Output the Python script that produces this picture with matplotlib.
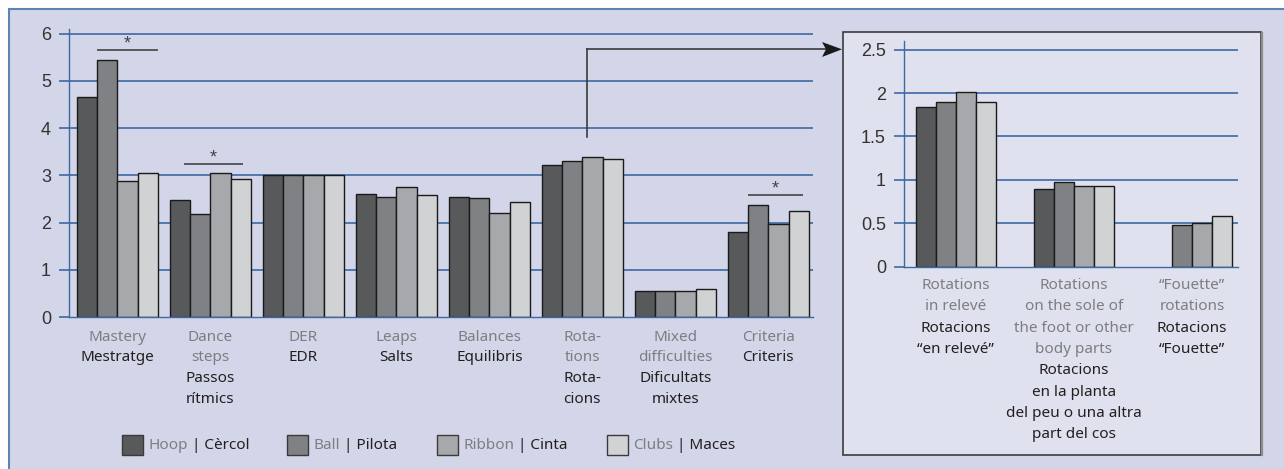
import matplotlib
matplotlib.use("Agg")
import matplotlib.pyplot as plt
import numpy as np
from matplotlib.patches import Rectangle, Polygon
from matplotlib.lines import Line2D
from matplotlib.offsetbox import HPacker, TextArea, DrawingArea, AnnotationBbox

# ---------------- data ----------------
series_en = ["Hoop", "Ball", "Ribbon", "Clubs"]
series_ca = ["Cèrcol", "Pilota", "Cinta", "Maces"]

main_en = ["Mastery", "Dance\nsteps", "DER", "Leaps", "Balances", "Rota-\ntions",
           "Mixed\ndifficulties", "Criteria"]
main_ca = ["Mestratge", "Passos\nrítmics", "EDR", "Salts", "Equilibris", "Rota-\ncions",
           "Dificultats\nmixtes", "Criteris"]
hoop = [4.66, 2.47, 3.00, 2.61, 2.54, 3.22, 0.55, 1.81]
ball = [5.45, 2.19, 3.00, 2.54, 2.51, 3.30, 0.55, 2.37]
ribbon = [2.89, 3.04, 3.00, 2.75, 2.21, 3.39, 0.56, 1.97]
clubs = [3.05, 2.92, 3.00, 2.58, 2.43, 3.34, 0.59, 2.24]
main_ticks = [0, 1, 2, 3, 4, 5, 6]

# significance markers: (category index, value of bar line)
sig_cats = [0, 1, 7]
sig_levels = [5.65, 3.24, 2.58]

inset_en = ["Rotations\nin relevé", "Rotations\non the sole of\nthe foot or other\nbody parts",
            "“Fouette”\nrotations"]
inset_ca = ["Rotacions\n“en relevé”", "Rotacions\nen la planta\ndel peu o una altra\npart del cos",
            "Rotacions\n“Fouette”"]
inset_hoop = [1.84, 0.89, np.nan]
inset_ball = [1.90, 0.97, 0.48]
inset_ribbon = [2.01, 0.93, 0.50]
inset_clubs = [1.90, 0.93, 0.58]
inset_ticks = [0, 0.5, 1, 1.5, 2, 2.5]
inset_ticklabels = ["0", "0.5", "1", "1.5", "2", "2.5"]

# ---------------- style ----------------
W, H = 1284, 469
colors = ["#58595b", "#808184", "#a7a8ab", "#d1d2d4"]
grid_c = "#3d68a3"
gray_txt = "#7d7e82"
black_txt = "#231f20"
outer_bg = "#d3d6e8"
inset_bg = "#dfe1ee"
lab_font = "Noto Sans"
tick_font = "Liberation Sans"
lab_fs = 11

fig = plt.figure(figsize=(W / 100, H / 100), dpi=100)
fig.patch.set_facecolor("white")

def fx(px):
    return px / W

def fy(py):
    return 1 - py / H

# outer panel
fig.add_artist(Rectangle((fx(9), fy(480)), fx(1300 - 9), (480 - 9) / H,
                         transform=fig.transFigure, facecolor=outer_bg,
                         edgecolor="#5b84b5", lw=1.5, zorder=-10))
# inset panel
fig.add_artist(Rectangle((fx(843), fy(455)), fx(1261 - 843), (455 - 32) / H,
                         transform=fig.transFigure, facecolor=inset_bg,
                         edgecolor="#3c3c3c", lw=1.2, zorder=-5))
fig.add_artist(Line2D([fx(1262), fx(1262)], [fy(455), fy(33)], transform=fig.transFigure,
                      color="#8c8c8c", lw=1.6, zorder=-4))


def style_axes(ax, ticks, ticklabels=None):
    ax.set_facecolor("none")
    for s in ["top", "right"]:
        ax.spines[s].set_visible(False)
    for s in ["left", "bottom"]:
        ax.spines[s].set_color(grid_c)
        ax.spines[s].set_linewidth(1.0)
    ax.set_yticks(ticks)
    if ticklabels is not None:
        ax.set_yticklabels(ticklabels)
    ax.tick_params(axis="y", length=7, width=1.2, color=grid_c, pad=6,
                   labelsize=13, labelcolor="#333333")
    for t in ax.get_yticklabels():
        t.set_fontfamily(tick_font)
    ax.set_xticks([])
    for t in ticks[1:]:
        ax.axhline(t, color=grid_c, lw=1.2, zorder=0.5)


def draw_bars(ax, values, width):
    n = len(values[0])
    x = np.arange(n)
    for k, (vals, c) in enumerate(zip(values, colors)):
        ax.bar(x + (k - 1.5) * width, vals, width=width, color=c,
               edgecolor="#1a1a1a", linewidth=1.0, zorder=2)


def draw_labels(ax, en_list, ca_list, first_off, step, fs):
    for i, (en, ca) in enumerate(zip(en_list, ca_list)):
        lines = [(l, gray_txt) for l in en.split("\n")] + [(l, black_txt) for l in ca.split("\n")]
        for j, (l, c) in enumerate(lines):
            ax.annotate(l, xy=(i, 0), xycoords=("data", "axes fraction"),
                        xytext=(0, -(first_off + j * step)), textcoords="offset pixels",
                        ha="center", va="center", fontsize=fs, color=c,
                        family=lab_font, annotation_clip=False)


# ---------------- main chart ----------------
ax = fig.add_axes([fx(69), fy(317), fx(813 - 69), (317 - 29) / H])
style_axes(ax, main_ticks)
ax.set_ylim(0, 6.1)
ax.set_xlim(-0.52, 7.48)
bw = 0.2175
draw_bars(ax, [hoop, ball, ribbon, clubs], bw)
draw_labels(ax, main_en, main_ca, 20, 20.7, lab_fs)

sig_spans = [(-1.0, 2.0), (-1.3, 1.6), (-1.0, 1.7)]  # in bar widths relative to group centre
for ci, lvl, (a, b) in zip(sig_cats, sig_levels, sig_spans):
    ax.plot([ci + a * bw, ci + b * bw], [lvl, lvl], color="#444444", lw=1.2, zorder=3,
            solid_capstyle="butt")
    ax.text(ci + (a + b) / 2 * bw, lvl + 0.13, "*", ha="center", va="center",
            fontsize=13, color="#444444", family=tick_font)

# ---------------- inset chart ----------------
ax2 = fig.add_axes([fx(904), fy(266.7), fx(1238 - 904), (266.7 - 41) / H])
style_axes(ax2, inset_ticks, inset_ticklabels)
ax2.set_ylim(0, 2.6)
ax2.set_xlim(-0.44, 2.39)
draw_bars(ax2, [inset_hoop, inset_ball, inset_ribbon, inset_clubs], 0.17)
draw_labels(ax2, inset_en, inset_ca, 18.5, 21.4, lab_fs)

# ---------------- connector arrow ----------------
fig.add_artist(Line2D([fx(587), fx(587)], [fy(137), fy(49.3)], transform=fig.transFigure,
                      color="#3a3a3a", lw=1.2, zorder=5))
fig.add_artist(Line2D([fx(587), fx(826)], [fy(49.3), fy(49.3)], transform=fig.transFigure,
                      color="#3a3a3a", lw=1.2, zorder=5))
fig.add_artist(Polygon(
    [[fx(822), fy(42)], [fx(842), fy(49.3)], [fx(822), fy(57)], [fx(826), fy(49.3)]],
    closed=True, transform=fig.transFigure, facecolor="#1a1a1a", edgecolor="none", zorder=5))

# ---------------- legend ----------------
leg_x = [122, 287, 437, 607]
for xpx, en, ca, c in zip(leg_x, series_en, series_ca, colors):
    da = DrawingArea(15, 15, 0, 0)
    da.add_artist(Rectangle((0, 0), 15, 15, facecolor=c, edgecolor="#3a3a3a", lw=1.0))
    t1 = TextArea(en, textprops=dict(color=gray_txt, fontsize=lab_fs, family=lab_font))
    t2 = TextArea(" | " + ca, textprops=dict(color=black_txt, fontsize=lab_fs, family=lab_font))
    words = HPacker(children=[t1, t2], align="baseline", pad=0, sep=0)
    box = HPacker(children=[da, words], align="center", pad=0, sep=4)
    ab = AnnotationBbox(box, (xpx, H - 445), xycoords="figure pixels", box_alignment=(0, 0.5),
                        frameon=False, pad=0)
    fig.add_artist(ab)

fig.savefig("out.png", dpi=100, facecolor=fig.get_facecolor())
